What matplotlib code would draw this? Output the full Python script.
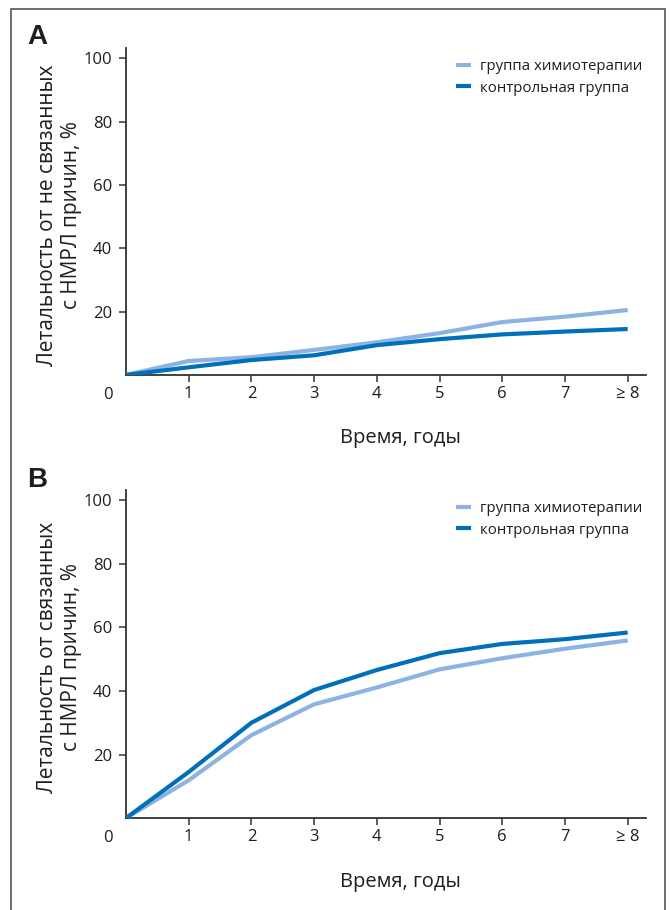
import matplotlib.pyplot as plt
from matplotlib.patches import Rectangle

# -----------------------------
# Data
# -----------------------------
years = [0, 1, 2, 3, 4, 5, 6, 7, 8]
tick_labels = ['1', '2', '3', '4', '5', '6', '7', '≥ 8']

# Panel A: mortality from non-NSCLC causes, %
chemo_a = [0, 4.4, 5.6, 7.9, 10.3, 13.2, 16.7, 18.4, 20.5]
control_a = [0, 2.4, 4.7, 6.2, 9.4, 11.3, 12.8, 13.7, 14.5]

# Panel B: mortality from NSCLC-related causes, %
chemo_b = [0, 11.9, 26.1, 35.8, 41.1, 46.8, 50.3, 53.3, 55.9]
control_b = [0, 14.5, 30.0, 40.3, 46.6, 51.9, 54.8, 56.3, 58.4]

series_labels = ['группа химиотерапии', 'контрольная группа']
ylabels = ['Летальность от не связанных\nс НМРЛ причин, %',
           'Летальность от связанных\nс НМРЛ причин, %']
panel_tags = ['A', 'B']

# -----------------------------
# Style
# -----------------------------
plt.rcParams['font.family'] = ['Open Sans', 'DejaVu Sans']
light = '#8DB3E2'
dark = '#0070BA'
axcol = '#333333'
txtcol = '#1e1e1e'


def draw_panel(ax, chemo, control, ylabel):
    ax.plot(years, chemo, color=light, lw=3, label=series_labels[0],
            solid_capstyle='butt', zorder=3)
    ax.plot(years, control, color=dark, lw=3, label=series_labels[1],
            solid_capstyle='butt', zorder=4)

    ax.set_xlim(0, 8.29)
    ax.set_ylim(0, 103.2)
    for s in ['top', 'right']:
        ax.spines[s].set_visible(False)
    for s in ['left', 'bottom']:
        ax.spines[s].set_color(axcol)
        ax.spines[s].set_linewidth(1.3)

    ax.set_xticks(years[1:])
    ax.set_xticklabels(tick_labels)
    ax.set_yticks([20, 40, 60, 80, 100])
    ax.tick_params(axis='both', colors=axcol, labelcolor=txtcol,
                   labelsize=12, length=5, width=1.1, pad=3)
    ax.tick_params(axis='y', pad=5)

    # shared origin label
    ax.annotate('0', xy=(0, 0), xycoords='data',
                xytext=(-18, -20), textcoords='offset pixels',
                ha='center', va='center', fontsize=12, color=txtcol)

    ax.set_xlabel('Время, годы', fontsize=14.5, color=txtcol)
    ax.xaxis.set_label_coords(0.527, -0.163)
    ax.set_ylabel(ylabel, fontsize=15, color=txtcol, linespacing=1.2)
    ax.yaxis.set_label_coords(-0.085, 0.49)

    ax.legend(loc='upper left', bbox_to_anchor=(0.62, 0.99),
              frameon=False, fontsize=10.8, handlelength=1.0,
              handletextpad=0.6, labelspacing=0.45, borderpad=0,
              labelcolor=txtcol)


def main():
    fig = plt.figure(figsize=(6.7, 9.1), dpi=100)

    ax_a = fig.add_axes([0.188, 0.588, 0.776, 0.359])
    ax_b = fig.add_axes([0.188, 0.101, 0.776, 0.3604])

    draw_panel(ax_a, chemo_a, control_a, ylabels[0])
    draw_panel(ax_b, chemo_b, control_b, ylabels[1])

    # panel tags
    for tag, ypix in zip(panel_tags, [37, 480]):
        fig.text(37 / 670, 1 - ypix / 910, tag, fontsize=20,
                 fontweight='bold', ha='center', va='center', color=txtcol,
                 family=['Liberation Sans', 'DejaVu Sans'])

    # outer frame
    fig.patches.append(Rectangle((11 / 670, -0.02), 654 / 670, 1.02 - 9 / 910,
                                 transform=fig.transFigure, fill=False,
                                 edgecolor='#555555', lw=1.2))

    fig.savefig('out.png', dpi=100)


if __name__ == "__main__":
    main()
